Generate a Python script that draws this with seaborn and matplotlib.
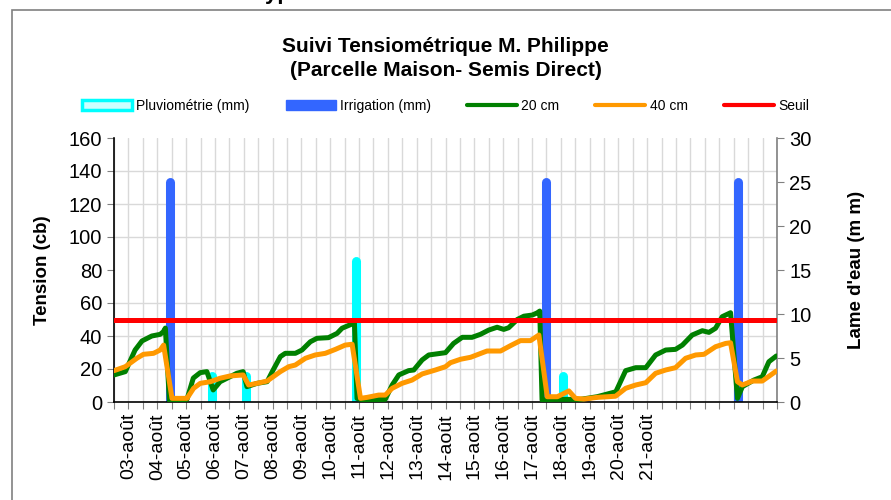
import numpy as np
import matplotlib.pyplot as plt
import seaborn as sns
from matplotlib.lines import Line2D
from matplotlib.patches import Patch, Rectangle
from matplotlib.ticker import MultipleLocator

# time in days since 03-août 00:00
x_20cm = [-0.50, -0.11, 0.23, 0.47, 0.81, 1.10, 1.21, 1.28, 1.42, 2.03, 2.25, 2.49, 2.72, 2.94,
          3.18, 3.42, 3.76, 3.98, 4.11, 4.46, 4.81, 5.02, 5.27, 5.44, 5.79, 6.02, 6.31, 6.54,
          6.94, 7.24, 7.41, 7.76, 7.84, 7.93, 8.16, 8.91, 9.15, 9.38, 9.72, 9.90, 10.19, 10.42,
          11.00, 11.28, 11.58, 11.92, 12.21, 12.50, 12.79, 13.02, 13.19, 13.49, 13.72, 14.01,
          14.18, 14.27, 14.35, 14.76, 15.68, 16.26, 16.91, 17.25, 17.60, 17.95, 18.29, 18.64,
          18.98, 19.22, 19.56, 19.91, 20.14, 20.37, 20.60, 20.89, 21.13, 21.30, 21.70, 21.99,
          22.22, 22.48]
tension_20cm = [16.4, 18.4, 31.5, 37, 40, 41, 42.6, 44.8, 1, 1.6, 14.5, 17.8, 18.4, 7.3,
                12.3, 14.4, 17.4, 18.4, 9.3, 11.3, 12.3, 19.4, 27.5, 29.5, 29.5, 31.5, 36.5, 38.6,
                39, 41.6, 44.7, 47.3, 48, 2.2, 1.2, 1.6, 10.3, 16.4, 19, 19.4, 25.5, 28.5,
                29.9, 35.5, 39.2, 39.2, 41, 43.6, 45.3, 44, 45, 50, 52, 52.7,
                54, 55.1, 1.2, 1.6, 1.6, 3.2, 6.2, 19, 20.8, 20.8, 28.5, 31.5,
                31.9, 34.5, 40.6, 43.2, 42.2, 44.7, 51.7, 54.1, 2.2, 9.3, 13.3, 15.3,
                24.4, 27.9]

x_40cm = [-0.50, -0.11, 0.29, 0.52, 0.87, 1.10, 1.22, 1.51, 2.03, 2.26, 2.49, 2.84, 3.18, 3.53,
          3.98, 4.17, 4.46, 4.81, 5.27, 5.56, 5.79, 6.14, 6.48, 6.83, 7.18, 7.52, 7.76, 8.05,
          8.28, 8.68, 8.91, 9.15, 9.49, 9.84, 10.19, 10.65, 11.00, 11.17, 11.52, 11.87, 12.44,
          12.91, 13.25, 13.60, 13.95, 14.24, 14.53, 14.88, 15.28, 15.51, 15.80, 16.26, 16.90,
          17.25, 17.60, 17.95, 18.29, 18.64, 18.98, 19.33, 19.68, 19.97, 20.37, 20.72, 20.89,
          21.13, 21.30, 21.65, 21.99, 22.48]
tension_40cm = [19, 21.4, 26.5, 28.9, 29.5, 31.5, 34.5, 2.2, 2.2, 8.3, 11.3, 12.3, 14.4, 15.8,
                16.4, 10.3, 11.3, 12.7, 18.4, 21.4, 22.4, 26.5, 28.5, 29.5, 31.9, 34.5, 35, 2.2,
                2.8, 4.2, 4.2, 8.3, 11.3, 13.3, 17, 19.4, 21.4, 23.8, 25.9, 27.1, 30.9,
                30.9, 34.1, 37.2, 37.2, 40.6, 3.2, 3.2, 6.7, 2.2, 1.8, 2.8, 3.5,
                8.3, 10.3, 11.7, 17.4, 19.4, 20.8, 26.5, 28.5, 28.9, 33.5, 35.5, 35.9,
                12.3, 10.3, 12.7, 12.7, 18.8]

pluie_jours = [2.89, 4.09, 7.91, 15.08]
pluie_mm = [3, 3, 16, 3]
irrig_jours = [1.45, 14.47, 21.15]
irrig_mm = [25, 25, 25]
seuil = 50

jour_labels = ['03-août', '04-août', '05-août', '06-août', '07-août', '08-août', '09-août',
               '10-août', '11-août', '12-août', '13-août', '14-août', '15-août', '16-août',
               '17-août', '18-août', '19-août', '20-août', '21-août']

sns.set_style('white')
plt.rcParams['font.family'] = ['Liberation Sans', 'DejaVu Sans']
plt.rcParams['text.color'] = 'black'
plt.rcParams['axes.labelcolor'] = 'black'
plt.rcParams['xtick.color'] = 'black'
plt.rcParams['ytick.color'] = 'black'

fig = plt.figure(figsize=(8.91, 5), dpi=100)
ax2 = fig.add_axes([0.128, 0.196, 0.744, 0.528])
ax = ax2.twinx()
ax.xaxis.set_visible(True)
ax.yaxis.tick_left()
ax.yaxis.set_label_position('left')
ax2.yaxis.tick_right()
ax2.yaxis.set_label_position('right')
ax.set_zorder(ax2.get_zorder() + 1)
ax.patch.set_visible(False)

# bars (right axis, behind the lines)
ax2.vlines(pluie_jours, 0, pluie_mm, colors='#00FFFF', linewidth=6.5, capstyle='round', zorder=3)
ax2.vlines(irrig_jours, 0, irrig_mm, colors='#3366FF', linewidth=6.5, capstyle='round', zorder=3)
ax2.set_ylim(0, 30)
ax2.set_yticks(range(0, 31, 5))
ax2.yaxis.set_minor_locator(MultipleLocator(30 / 8))
ax2.grid(which='minor', axis='y', color='#d9d9d9', linewidth=1)
ax2.grid(which='major', axis='x', color='#d9d9d9', linewidth=1)
ax2.xaxis.set_visible(True)
ax2.tick_params(axis='x', length=0, labelbottom=False)
ax2.tick_params(axis='y', which='minor', length=0)
ax2.tick_params(axis='y', which='major', direction='out', length=5, color='#808080',
                labelsize=14.5, pad=4, right=True, labelcolor='black')
ax2.set_ylabel("Lame d'eau (m m)", fontsize=13.5, fontweight='bold', labelpad=26)
for s in ['left', 'top', 'bottom']:
    ax2.spines[s].set_visible(False)
ax2.spines['right'].set_color('#808080')
ax2.spines['right'].set_linewidth(1.2)

# tension lines (left axis, on top)
sns.lineplot(x=x_20cm, y=tension_20cm, ax=ax, color='#008000', linewidth=3.6, zorder=4)
sns.lineplot(x=x_40cm, y=tension_40cm, ax=ax, color='#FF9900', linewidth=3.6, zorder=5)
ax.axhline(seuil, color='#FF0000', linewidth=3.6, zorder=6)

ax.set_xlim(-0.5, 22.5)
ax.set_ylim(0, 160)
ax.set_yticks(range(0, 161, 20))
ticks = np.arange(-0.5, 22.51, 0.5)
ax.set_xticks(ticks)
labels = []
for t in ticks:
    if t == int(t) and 0 <= int(t) < len(jour_labels):
        labels.append(jour_labels[int(t)])
    else:
        labels.append('')
ax.set_xticklabels(labels, rotation=90, fontsize=14)
ax.tick_params(axis='x', direction='out', length=5, color='#808080', pad=3, bottom=True,
               labelbottom=True, labelcolor='black')
ax.tick_params(axis='y', direction='out', length=5, color='#808080', labelsize=14.5, left=True,
               labelcolor='black')
ax.set_ylabel('Tension (cb)', fontsize=13.5, fontweight='bold', labelpad=13)
ax.set_xlabel('')
ax.spines['left'].set_color('black')
ax.spines['bottom'].set_color('black')
ax.spines['left'].set_linewidth(1.2)
ax.spines['bottom'].set_linewidth(1.2)
ax.spines['top'].set_visible(False)
ax.spines['right'].set_visible(False)

# titles
fig.text(0.5, 1 - 47 / 500, 'Suivi Tensiométrique M. Philippe', ha='center', va='center',
         fontsize=15, fontweight='bold')
fig.text(0.5, 1 - 71 / 500, '(Parcelle Maison- Semis Direct)', ha='center', va='center',
         fontsize=15, fontweight='bold')
fig.text(0.285, 1 + 1 / 500, 'Type', ha='left', va='baseline', fontsize=16, fontweight='bold')

# chart border
fig.add_artist(Rectangle((12 / 891, -0.05), 1.0, 1 - 10 / 500 + 0.05, transform=fig.transFigure,
                         fill=False, edgecolor='#808080', linewidth=1.2))

handles = [
    Patch(facecolor='#CCFFFF', edgecolor='#00FFFF', linewidth=2.5),
    Patch(facecolor='#3366FF', edgecolor='#3366FF'),
    Line2D([], [], color='#008000', linewidth=3),
    Line2D([], [], color='#FF9900', linewidth=3),
    Line2D([], [], color='#FF0000', linewidth=3),
]
fig.legend(handles, ['Pluviométrie (mm)', 'Irrigation (mm)', '20 cm', '40 cm', 'Seuil'],
           loc='center', bbox_to_anchor=(0.5, 1 - 106 / 500), ncol=5, frameon=False,
           fontsize=10, handlelength=3.6, handleheight=0.7,
           handletextpad=0.3, columnspacing=2.6)

fig.savefig('out.png', dpi=100)
